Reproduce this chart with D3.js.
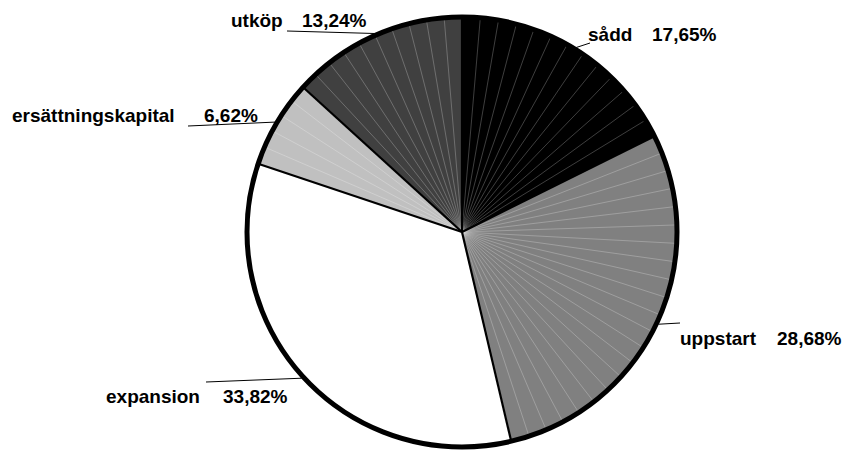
<!DOCTYPE html>
<html>
<head>
<meta charset="utf-8">
<script src="https://cdn.jsdelivr.net/npm/d3@7"></script>
<style>
  html, body { margin: 0; padding: 0; background: #fff; }
  svg text { font-family: "Liberation Sans", Arial, sans-serif; font-weight: bold; font-size: 19px; fill: #000; }
</style>
</head>
<body>
<svg id="chart" width="843" height="450"></svg>
<script>
// Investment stages and their shares (%)
const categories = ["sådd", "uppstart", "expansion", "ersättningskapital", "utköp"];
const shares = [17.65, 28.68, 33.82, 6.62, 13.24];
const shareLabels = ["17,65%", "28,68%", "33,82%", "6,62%", "13,24%"];
const fills = ["#000000", "#808080", "#ffffff", "#c0c0c0", "#404040"];

// Label placement: name x, percent x, baseline y, leader end point
const labelLayout = {
  "sådd":               { nx: 588, px: 652, y: 41,  lx: 590, ly: 43 },
  "uppstart":           { nx: 680, px: 777, y: 345, lx: 680, ly: 323 },
  "expansion":          { nx: 106, px: 223, y: 403, lx: 206, ly: 382 },
  "ersättningskapital": { nx: 12,  px: 204, y: 122, lx: 188, ly: 126 },
  "utköp":              { nx: 231, px: 302, y: 27,  lx: 287, ly: 31 }
};

const cx = 462, cy = 232, R = 215;
const svg = d3.select("#chart");
const g = svg.append("g").attr("transform", `translate(${cx},${cy})`);

const data = categories.map((c, i) => ({ name: c, value: shares[i], label: shareLabels[i], fill: fills[i] }));
const pie = d3.pie().value(d => d.value).sort(null).startAngle(0).endAngle(2 * Math.PI);
const arcs = pie(data);
const arc = d3.arc().innerRadius(0).outerRadius(R);

// Slices
g.selectAll("path.slice")
  .data(arcs)
  .enter().append("path")
  .attr("class", "slice")
  .attr("d", arc)
  .attr("fill", d => d.data.fill)
  .attr("stroke", "none");

// Fine radial shading seams inside each slice
const step = 5 * Math.PI / 180;
arcs.forEach(a => {
  const span = a.endAngle - a.startAngle;
  const n = Math.max(1, Math.round(span / step));
  const angles = d3.range(1, n).map(k => a.startAngle + span * k / n);
  g.selectAll(null)
    .data(angles)
    .enter().append("line")
    .attr("x1", 0).attr("y1", 0)
    .attr("x2", t => R * Math.sin(t))
    .attr("y2", t => -R * Math.cos(t))
    .attr("stroke", "#ffffff")
    .attr("stroke-opacity", 0.35)
    .attr("stroke-width", 0.7);
});

// Slice separators
g.selectAll("line.sep")
  .data(arcs)
  .enter().append("line")
  .attr("class", "sep")
  .attr("x1", 0).attr("y1", 0)
  .attr("x2", d => R * Math.sin(d.startAngle))
  .attr("y2", d => -R * Math.cos(d.startAngle))
  .attr("stroke", "#000")
  .attr("stroke-width", 2.2);

// Outer rim
g.append("circle")
  .attr("r", R)
  .attr("fill", "none")
  .attr("stroke", "#000")
  .attr("stroke-width", 5);

// Leader lines from slice midpoints on the rim
const Rl = R + 2;
svg.selectAll("line.leader")
  .data(arcs)
  .enter().append("line")
  .attr("class", "leader")
  .attr("x1", d => cx + Rl * Math.sin((d.startAngle + d.endAngle) / 2))
  .attr("y1", d => cy - Rl * Math.cos((d.startAngle + d.endAngle) / 2))
  .attr("x2", d => labelLayout[d.data.name].lx)
  .attr("y2", d => labelLayout[d.data.name].ly)
  .attr("stroke", "#000")
  .attr("stroke-width", 1);

// Labels
const labels = svg.selectAll("g.label")
  .data(arcs)
  .enter().append("g")
  .attr("class", "label");
labels.append("text")
  .attr("x", d => labelLayout[d.data.name].nx)
  .attr("y", d => labelLayout[d.data.name].y)
  .text(d => d.data.name);
labels.append("text")
  .attr("x", d => labelLayout[d.data.name].px)
  .attr("y", d => labelLayout[d.data.name].y)
  .text(d => d.data.label);
</script>
</body>
</html>
